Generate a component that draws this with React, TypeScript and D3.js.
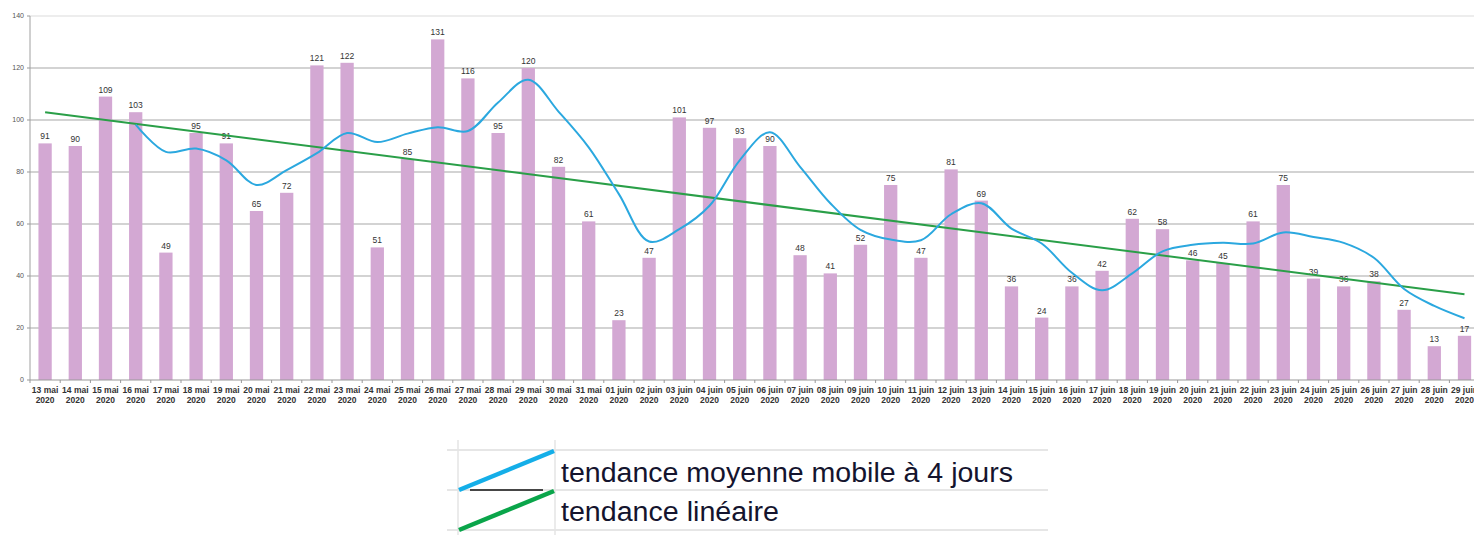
import React from 'react';
import * as d3 from 'd3';

// daily counts, 13 mai -> 29 juin 2020
const days = [
  '13 mai', '14 mai', '15 mai', '16 mai', '17 mai', '18 mai', '19 mai', '20 mai', '21 mai', '22 mai',
  '23 mai', '24 mai', '25 mai', '26 mai', '27 mai', '28 mai', '29 mai', '30 mai', '31 mai',
  '01 juin', '02 juin', '03 juin', '04 juin', '05 juin', '06 juin', '07 juin', '08 juin', '09 juin', '10 juin',
  '11 juin', '12 juin', '13 juin', '14 juin', '15 juin', '16 juin', '17 juin', '18 juin', '19 juin', '20 juin',
  '21 juin', '22 juin', '23 juin', '24 juin', '25 juin', '26 juin', '27 juin', '28 juin', '29 juin',
];
const year = '2020';

const counts = [
  91, 90, 109, 103, 49, 95, 91, 65, 72, 121, 122, 51, 85, 131, 116, 95, 120, 82, 61,
  23, 47, 101, 97, 93, 90, 48, 41, 52, 75, 47, 81, 69, 36, 24, 36, 42, 62, 58, 46, 45, 61, 75, 39, 36, 38, 27, 13, 17,
];

// 4-day moving average, starts on 16 mai
const movingAvg = [
  98.25, 87.75, 89, 84.5, 75, 80.75, 87.25, 95, 91.5, 94.75, 97.25, 95.75, 106.75, 115.5, 103.25, 89.5,
  71.5, 53.25, 58, 67, 84.5, 95.25, 82, 68, 57.75, 54, 53.75, 63.75, 68, 58.25, 52.5, 41.25, 34.5, 41,
  49.5, 52, 52.75, 52.5, 56.75, 55, 52.75, 47, 35, 28.5, 23.75,
];
const maStart = 3;

// linear trend, value at first and last day
const linearTrend = [103, 33];

const yTicks = [0, 20, 40, 60, 80, 100, 120, 140];

const legendItems = [
  { label: 'tendance moyenne mobile à 4 jours', color: '#14aee8', width: 452 },
  { label: 'tendance linéaire', color: '#0aa54a', width: 218 },
];

const W = 1474;
const H = 535;
const left = 30;
const top = 16;
const bottom = 380;
const step = 30.2;

const App: React.FC = () => {
  const x = d3.scaleBand<string>()
    .domain(days)
    .range([left, left + step * days.length])
    .paddingInner(0.56)
    .paddingOuter(0.28);
  const y = d3.scaleLinear().domain([0, 140]).range([bottom, top]);
  const cx = (d: string) => (x(d) ?? 0) + x.bandwidth() / 2;

  const maLine = d3.line<number>()
    .x((_, i) => cx(days[i + maStart]))
    .y(d => y(d))
    .curve(d3.curveCatmullRom.alpha(0.5));

  const trendLine = d3.line<number>()
    .x((_, i) => cx(i === 0 ? days[0] : days[days.length - 1]))
    .y(d => y(d));

  return (
    <svg width={W} height={H} style={{ position: 'absolute', left: 0, top: 0, background: '#fff' }}
      fontFamily="Liberation Sans, Arial, sans-serif">
      {/* grid */}
      {yTicks.map(t => (
        <g key={t}>
          {t > 0 && (
            <line x1={left} x2={W} y1={y(t)} y2={y(t)}
              stroke={t === 140 ? '#dcdcdc' : '#a8a8a8'} strokeWidth={1.2} />
          )}
          <line x1={left - 3} x2={left} y1={y(t)} y2={y(t)} stroke="#999" />
          <text x={left - 6} y={y(t)} dy="0.35em" textAnchor="end" fontSize={7} fill="#555">{t}</text>
        </g>
      ))}
      <line x1={left} x2={left} y1={top} y2={bottom} stroke="#a0a0a0" />

      {/* bars */}
      {counts.map((v, i) => (
        <g key={days[i]}>
          <rect x={x(days[i])} y={y(v)} width={x.bandwidth()} height={bottom - y(v)} fill="#d3a8d3" />
          <text x={cx(days[i])} y={y(v) - 4} textAnchor="middle" fontSize={8.5} fill="#333">{v}</text>
        </g>
      ))}

      {/* x axis */}
      <line x1={left} x2={W} y1={bottom} y2={bottom} stroke="#999" />
      {days.map((d, i) => (
        <g key={'t' + d}>
          <line x1={left + step * i} x2={left + step * i} y1={bottom} y2={bottom + 3} stroke="#999" />
          <text x={cx(d)} y={bottom + 13} textAnchor="middle" fontSize={8.5} fontWeight="bold" fill="#333">{d}</text>
          <text x={cx(d)} y={bottom + 23} textAnchor="middle" fontSize={8.5} fontWeight="bold" fill="#333">{year}</text>
        </g>
      ))}

      {/* trend lines */}
      <path d={trendLine(linearTrend) ?? ''} fill="none" stroke="#2a9f48" strokeWidth={2} />
      <path d={maLine(movingAvg) ?? ''} fill="none" stroke="#2ba8df" strokeWidth={2} />

      {/* legend table */}
      <g>
        {[450, 490, 530].map(ly => (
          <line key={ly} x1={447} x2={1048} y1={ly} y2={ly} stroke="#dedede" strokeWidth={1.5} />
        ))}
        <line x1={458} x2={458} y1={440} y2={535} stroke="#e4e4e4" strokeWidth={1.5} />
        <line x1={555} x2={555} y1={440} y2={535} stroke="#e4e4e4" strokeWidth={1.5} />
        <line x1={470} x2={543} y1={490} y2={490} stroke="#111" strokeWidth={1.5} />
        {legendItems.map((it, i) => (
          <g key={it.label}>
            <line x1={459} y1={490 + i * 40} x2={554} y2={451 + i * 40} stroke={it.color} strokeWidth={4.5} />
            <text x={561} y={482 + i * 39} fontSize={27} fill="#14142e"
              textLength={it.width} lengthAdjust="spacingAndGlyphs">{it.label}</text>
          </g>
        ))}
      </g>
    </svg>
  );
};

export default App;
